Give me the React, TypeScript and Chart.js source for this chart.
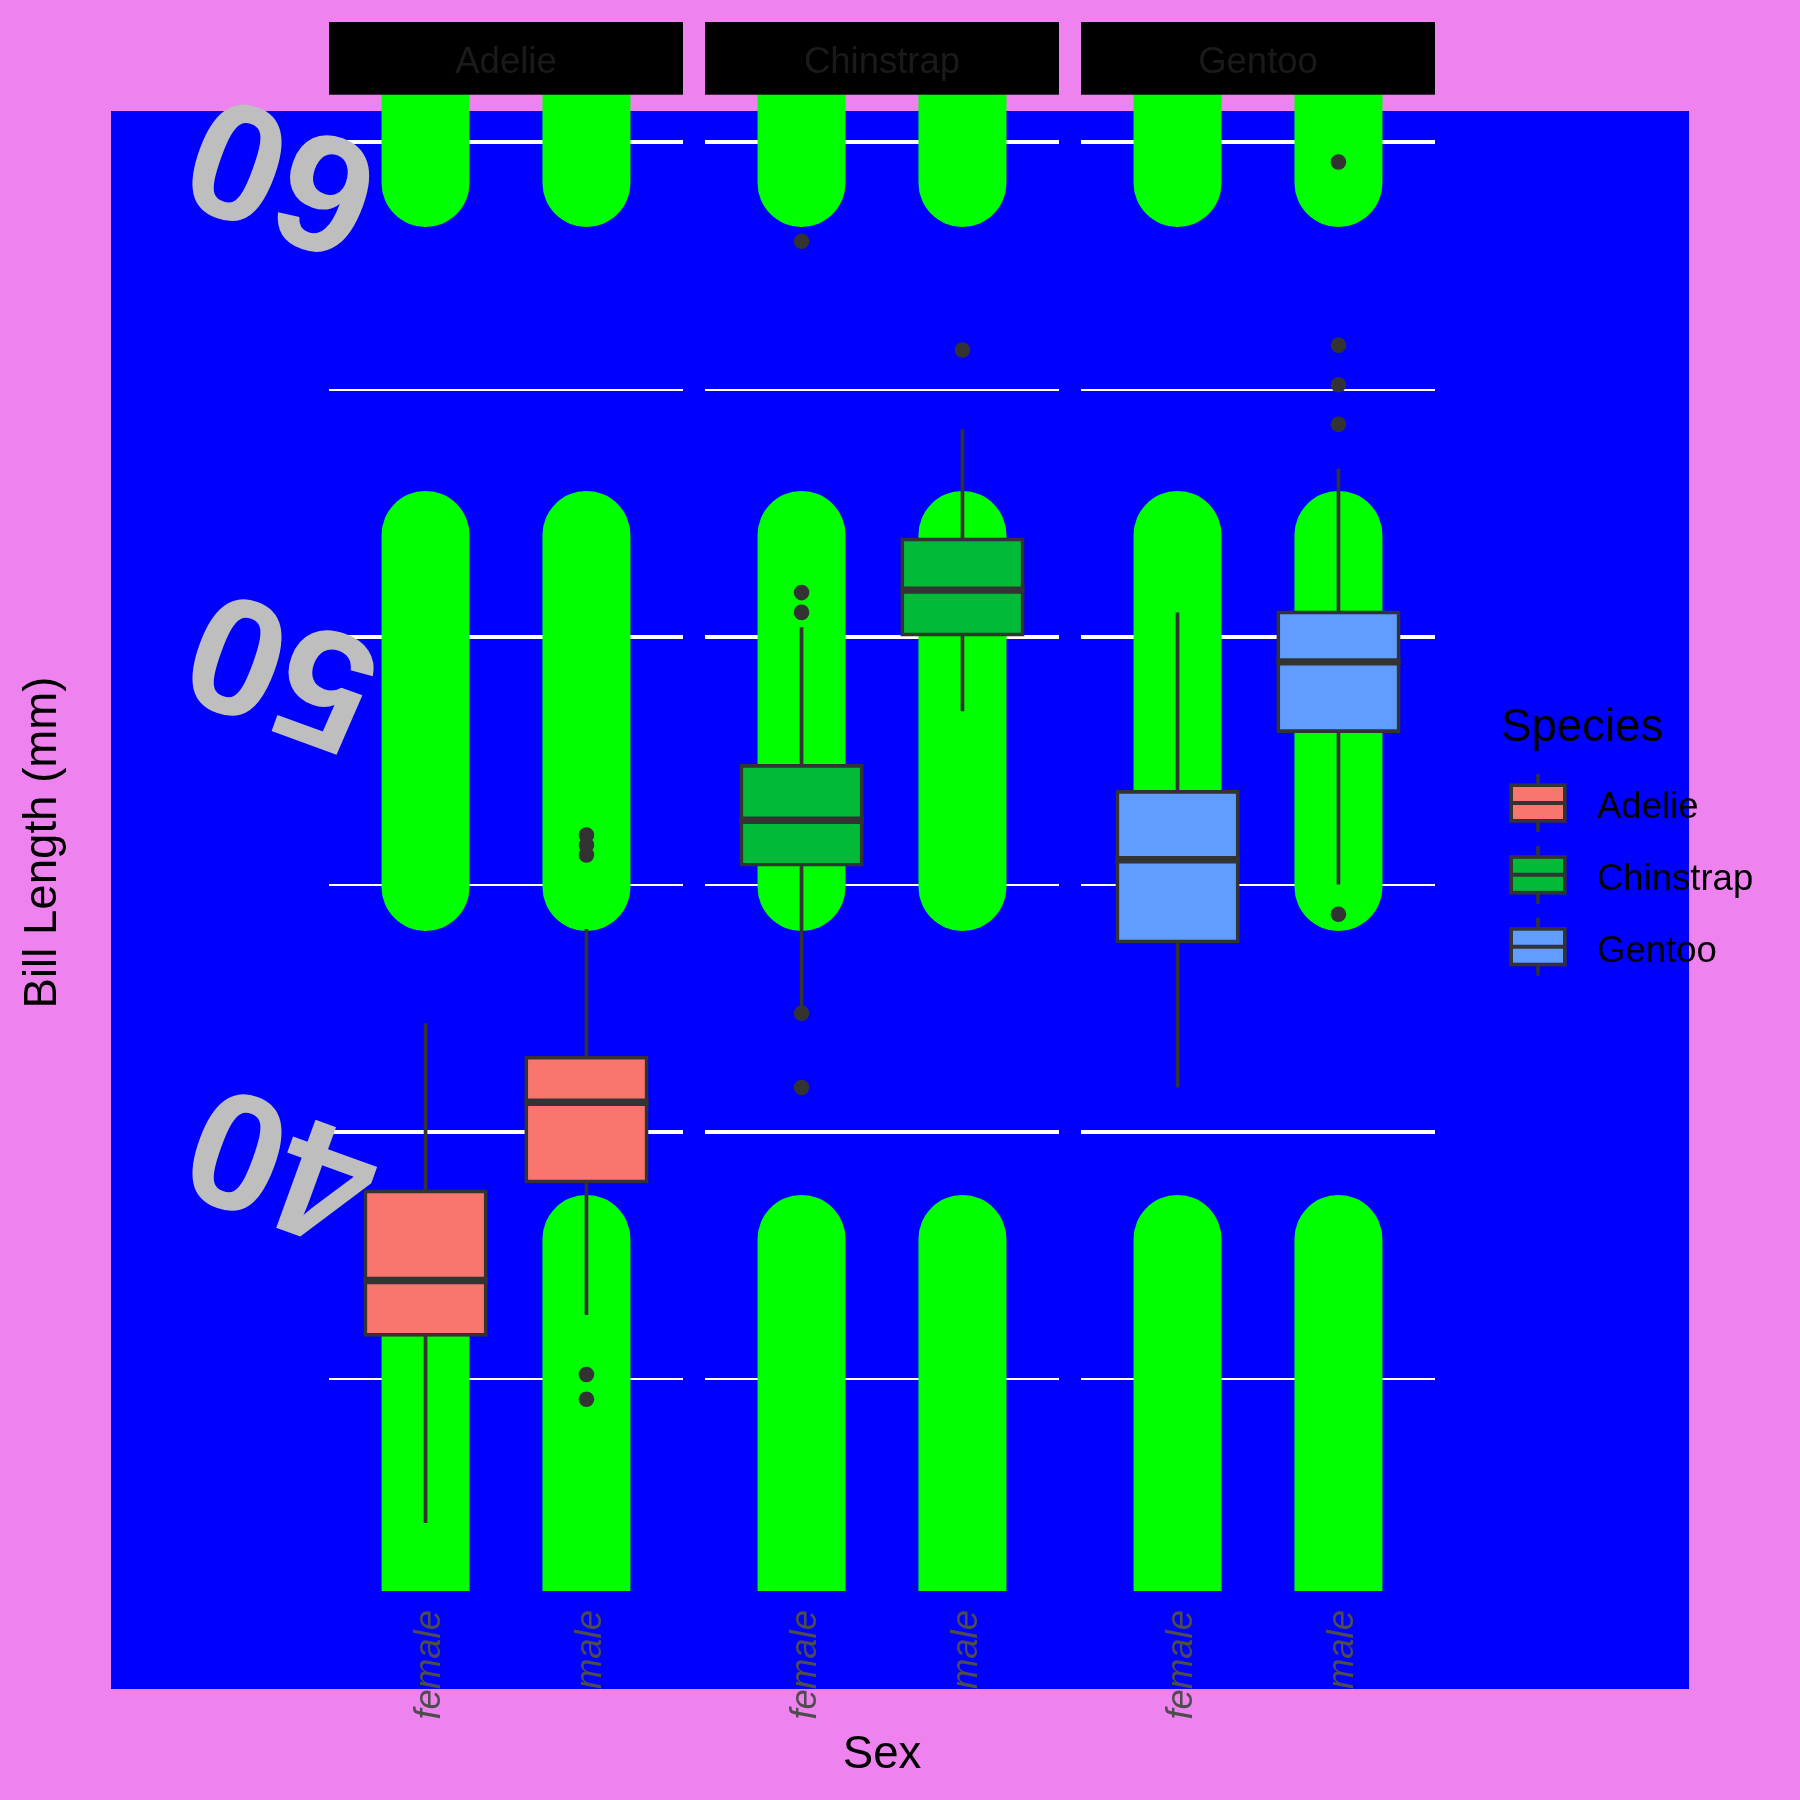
import React, { useEffect, useRef } from "react";
import { Chart, registerables } from "chart.js";

Chart.register(...registerables);

// ---------------- data ----------------
const species = ["Adelie", "Chinstrap", "Gentoo"];
const sexes = ["female", "male"];
const speciesColors = ["#F8766D", "#00BA38", "#619CFF"];
// each entry: [female, male]
const lowerWhisker = [[32.1, 36.3], [42.5, 48.5], [40.9, 45.0]];
const q1 = [[35.9, 39.0], [45.4, 50.05], [43.85, 48.1]];
const median = [[37.0, 40.6], [46.3, 50.95], [45.5, 49.5]];
const q3 = [[38.8, 41.5], [47.4, 51.975], [46.875, 50.5]];
const upperWhisker = [[42.2, 44.1], [50.2, 54.2], [50.5, 53.4]];
const outliers = [
  [[], [46.0, 45.8, 45.6, 35.1, 34.6]],
  [[58.0, 50.9, 50.5, 42.4, 40.9], [55.8]],
  [[], [59.6, 55.9, 55.1, 54.3, 44.4]],
];
const yLabelTicks = [40, 50, 60];
const yGridTicks = [35, 40, 45, 50, 55, 60];
const yMin = 30.725;
const yMax = 60.975;
const xMin = 0.4;
const xMax = 2.6;
const yTitle = "Bill Length (mm)";
const xTitle = "Sex";
const legendTitle = "Species";

// ---------------- layout / style ----------------
const W = 1800;
const H = 1800;
const FONT = '"Liberation Sans", Arial, Helvetica, sans-serif';
const panelLefts = [329, 705, 1081];
const panelWidth = 354;
const panelTop = 94;
const panelBottom = 1591;
const xAxisHeight = 150;
const stripTop = 22;
const BOX_LINE = 3.7;

function makeConfig(i: number): any {
  const left = panelLefts[i];
  const right = W - (left + panelWidth);
  const deco = {
    id: "deco" + i,
    beforeDraw(chart: any) {
      if (i !== 0) return;
      const ctx = chart.ctx;
      ctx.save();
      ctx.fillStyle = "#EE82EE";
      ctx.fillRect(0, 0, W, H);
      ctx.fillStyle = "#0000FF";
      ctx.fillRect(111, 111, 1578, 1578);
      ctx.restore();
    },
    beforeDatasetsDraw(chart: any) {
      const { ctx, chartArea: a } = chart;
      const x = chart.scales.x;
      const y = chart.scales.y;
      // green dashed vertical "grid" lines
      ctx.save();
      ctx.beginPath();
      ctx.rect(a.left, a.top, a.right - a.left, a.bottom - a.top);
      ctx.clip();
      ctx.strokeStyle = "#00FF00";
      ctx.lineWidth = 88;
      ctx.lineCap = "round";
      ctx.setLineDash([352, 352]);
      x.ticks.forEach((t: any) => {
        const px = x.getPixelForValue(t.value);
        ctx.beginPath();
        ctx.moveTo(px, a.bottom);
        ctx.lineTo(px, a.top - 400);
        ctx.stroke();
      });
      ctx.restore();
      // whiskers
      ctx.save();
      ctx.strokeStyle = "#333333";
      ctx.lineWidth = BOX_LINE;
      ctx.lineCap = "butt";
      sexes.forEach((_s, j) => {
        const px = x.getPixelForValue(j + 1);
        ctx.beginPath();
        ctx.moveTo(px, y.getPixelForValue(upperWhisker[i][j]));
        ctx.lineTo(px, y.getPixelForValue(q3[i][j]));
        ctx.moveTo(px, y.getPixelForValue(q1[i][j]));
        ctx.lineTo(px, y.getPixelForValue(lowerWhisker[i][j]));
        ctx.stroke();
      });
      ctx.restore();
    },
    afterDatasetsDraw(chart: any) {
      const { ctx } = chart;
      const y = chart.scales.y;
      const meta = chart.getDatasetMeta(0);
      ctx.save();
      ctx.strokeStyle = "#333333";
      ctx.lineWidth = BOX_LINE * 2;
      ctx.lineCap = "butt";
      meta.data.forEach((el: any, j: number) => {
        const py = y.getPixelForValue(median[i][j]);
        const hw = el.width / 2 + BOX_LINE / 2;
        ctx.beginPath();
        ctx.moveTo(el.x - hw, py);
        ctx.lineTo(el.x + hw, py);
        ctx.stroke();
      });
      ctx.restore();
    },
    afterDraw(chart: any) {
      const { ctx, chartArea: a } = chart;
      const y = chart.scales.y;
      // strip
      ctx.save();
      ctx.fillStyle = "#000000";
      ctx.fillRect(a.left, stripTop, a.right - a.left, a.top + 0.7 - stripTop);
      ctx.fillStyle = "#1A1A1A";
      ctx.font = `36.5px ${FONT}`;
      ctx.textAlign = "center";
      ctx.textBaseline = "alphabetic";
      ctx.fillText(species[i], (a.left + a.right) / 2, 72.7);
      ctx.restore();

      if (i === 0) {
        // rotated y tick labels
        ctx.save();
        ctx.font = `bold 167px ${FONT}`;
        ctx.fillStyle = "#BEBEBE";
        ctx.textAlign = "center";
        ctx.textBaseline = "middle";
        yLabelTicks.forEach((v) => {
          const py = y.getPixelForValue(v);
          ctx.save();
          ctx.translate(a.left - 44.5, py + 25.5);
          ctx.rotate((-160 * Math.PI) / 180);
          ctx.fillText(String(v), 0, 0);
          ctx.restore();
        });
        ctx.restore();
        // y title
        ctx.save();
        ctx.fillStyle = "#000000";
        ctx.font = `45.6px ${FONT}`;
        ctx.textAlign = "center";
        ctx.textBaseline = "alphabetic";
        ctx.translate(56, (a.top + a.bottom) / 2);
        ctx.rotate(-Math.PI / 2);
        ctx.fillText(yTitle, 0, 0);
        ctx.restore();
        // x title
        ctx.save();
        ctx.fillStyle = "#000000";
        ctx.font = `45.6px ${FONT}`;
        ctx.textAlign = "center";
        ctx.textBaseline = "alphabetic";
        ctx.fillText(xTitle, (panelLefts[0] + panelLefts[2] + panelWidth) / 2, 1768);
        ctx.restore();
      }

      if (i === species.length - 1) {
        // legend
        ctx.save();
        ctx.fillStyle = "#000000";
        ctx.font = `45.6px ${FONT}`;
        ctx.textAlign = "left";
        ctx.textBaseline = "alphabetic";
        ctx.fillText(legendTitle, 1501, 741);
        species.forEach((name, k) => {
          const cy = 803 + 71.85 * k;
          const cx = 1538;
          ctx.strokeStyle = "#333333";
          ctx.lineWidth = BOX_LINE;
          ctx.beginPath();
          ctx.moveTo(cx, cy - 29);
          ctx.lineTo(cx, cy + 29);
          ctx.stroke();
          ctx.fillStyle = speciesColors[k];
          ctx.fillRect(1511.15, cy - 17.85, 53.7, 35.7);
          ctx.strokeRect(1511.15, cy - 17.85, 53.7, 35.7);
          ctx.lineWidth = 4;
          ctx.beginPath();
          ctx.moveTo(1511.15, cy);
          ctx.lineTo(1564.85, cy);
          ctx.stroke();
          ctx.fillStyle = "#000000";
          ctx.font = `36.5px ${FONT}`;
          ctx.fillText(name, 1597, cy + 15.3);
        });
        ctx.restore();
      }
    },
  };

  return {
    type: "bar",
    data: {
      datasets: [
        {
          type: "bar",
          data: sexes.map((_s, j) => ({ x: j + 1, y: [q1[i][j], q3[i][j]] })),
          backgroundColor: speciesColors[i],
          borderColor: "#333333",
          borderWidth: BOX_LINE,
          borderSkipped: false,
          barThickness: 120.5,
          inflateAmount: BOX_LINE / 2,
        },
        {
          type: "scatter",
          data: outliers[i].flatMap((vals, j) => vals.map((v) => ({ x: j + 1, y: v }))),
          pointRadius: 7.8,
          pointHoverRadius: 7.8,
          pointBackgroundColor: "#333333",
          pointBorderColor: "#333333",
          pointBorderWidth: 0,
          showLine: false,
        },
      ],
    },
    options: {
      responsive: false,
      animation: false,
      devicePixelRatio: 1,
      events: [],
      layout: {
        padding: { left, right, top: panelTop, bottom: H - panelBottom - xAxisHeight },
      },
      plugins: { legend: { display: false }, tooltip: { enabled: false } },
      scales: {
        x: {
          type: "linear",
          min: xMin,
          max: xMax,
          offset: false,
          bounds: "data",
          afterBuildTicks: (s: any) => {
            s.ticks = sexes.map((_s, j) => ({ value: j + 1 }));
          },
          afterFit: (s: any) => {
            s.height = xAxisHeight;
          },
          grid: { display: false, drawTicks: false },
          border: { display: false },
          ticks: {
            autoSkip: false,
            minRotation: 90,
            maxRotation: 90,
            padding: 19,
            labelOffset: 4,
            color: "#4D4D4D",
            font: { family: FONT, size: 36.5, style: "italic" },
            callback: (v: any) => sexes[Math.round(v) - 1],
          },
        },
        y: {
          type: "linear",
          min: yMin,
          max: yMax,
          bounds: "data",
          beginAtZero: false,
          afterBuildTicks: (s: any) => {
            s.ticks = yGridTicks.map((v) => ({ value: v }));
          },
          afterFit: (s: any) => {
            s.width = 0;
          },
          border: { display: false },
          ticks: { display: false },
          grid: {
            color: "#FFFFFF",
            drawTicks: false,
            lineWidth: (c: any) => (c.tick && c.tick.value % 10 === 0 ? 4 : 2),
          },
        },
      },
    },
    plugins: [deco],
  };
}

function Panel({ index }: { index: number }) {
  const ref = useRef<HTMLCanvasElement>(null);
  useEffect(() => {
    if (!ref.current) return;
    const chart = new Chart(ref.current, makeConfig(index));
    return () => chart.destroy();
  }, [index]);
  return (
    <canvas
      ref={ref}
      width={W}
      height={H}
      style={{ position: "absolute", left: 0, top: 0, width: W, height: H, display: "block" }}
    />
  );
}

export default function App() {
  return (
    <div
      style={{
        position: "absolute",
        left: 0,
        top: 0,
        width: W,
        height: H,
        background: "#EE82EE",
        overflow: "hidden",
      }}
    >
      {species.map((_s, i) => (
        <Panel key={i} index={i} />
      ))}
    </div>
  );
}
